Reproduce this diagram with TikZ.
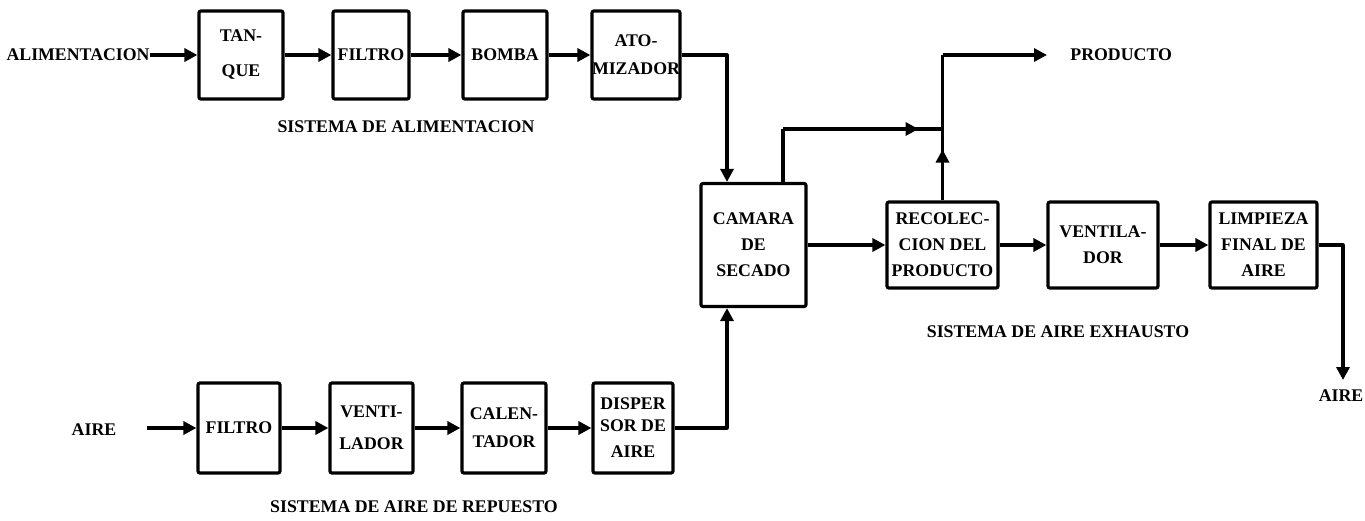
\documentclass[tikz,border=0pt]{standalone}
\usepackage{fontspec}
\setmainfont{Liberation Serif}
\usetikzlibrary{arrows.meta,decorations.markings,calc}
\newcommand\dtxt{\fontsize{8.9}{13}\selectfont\bfseries}
\tikzset{
  blk/.style={draw, line width=1.6pt, rounded corners=1pt, align=center, inner sep=0pt, font=\dtxt},
  lbl/.style={inner sep=0pt, font=\dtxt},
  ln/.style={line width=1.6pt, line join=round},
  arr/.style={ln, -{Triangle[length=6.5pt,width=6.5pt]}},
  midarr/.style={postaction={decorate}, decoration={markings, mark=at position #1 with {\arrow{Triangle[length=6.5pt,width=6.5pt]}}}},
}
\begin{document}
\begin{tikzpicture}[x=0.5pt,y=-0.5pt]
\useasboundingbox (0,0) rectangle (1365,520);
% top row
\node[lbl, anchor=east] (alim) at (150,55) {ALIMENTACION};
\node[blk, minimum width=42pt, minimum height=44pt] (tanque) at (241,55) {TAN-\\[4.5pt]QUE};
\node[blk, minimum width=38pt, minimum height=44pt] (filtroa) at (371,55) {FILTRO};
\node[blk, minimum width=42pt, minimum height=44pt] (bomba) at (505,55) {BOMBA};
\node[blk, minimum width=41pt, minimum height=44pt] (atom) at (636,55) {ATO-\\[1pt]MIZADOR};
\node[lbl] (sisa) at (406,127) {SISTEMA DE ALIMENTACION};
% middle
\node[blk, minimum width=52.5pt, minimum height=61.5pt] (camara) at (753.5,245) {CAMARA\\DE\\SECADO};
\node[blk, minimum width=55.5pt, minimum height=43pt] (recol) at (942.5,245) {RECOLEC-\\CION DEL\\PRODUCTO};
\node[blk, minimum width=55pt, minimum height=43pt] (ventb) at (1103,245) {VENTILA-\\DOR};
\node[blk, minimum width=53.5pt, minimum height=43pt] (limp) at (1263.5,245) {LIMPIEZA\\FINAL DE\\AIRE};
\node[lbl, anchor=west] (prod) at (1070,55) {PRODUCTO};
\node[lbl] (sise) at (1058,332) {SISTEMA DE AIRE EXHAUSTO};
\node[lbl] (aireb) at (1341,396) {AIRE};
% bottom row
\node[lbl] (airea) at (94,430) {AIRE};
\node[blk, minimum width=41pt, minimum height=45pt] (filtrob) at (239,428) {FILTRO};
\node[blk, minimum width=41.5pt, minimum height=45pt] (venta) at (371.5,428) {VENTI-\\[3pt]LADOR};
\node[blk, minimum width=42pt, minimum height=45pt] (cal) at (504,428) {CALEN-\\[1pt]TADOR};
\node[blk, minimum width=40pt, minimum height=45pt] (disp) at (633,428) {DISPER\\[-2pt]SOR DE\\AIRE};
\node[lbl] (sisr) at (414,507) {SISTEMA DE AIRE DE REPUESTO};
% coordinates
\coordinate (c1) at (727,55);
\coordinate (c2) at (783,129);
\coordinate (j1) at (942.5,129);
\coordinate (c3) at (942.5,55);
\coordinate (pe) at (1047,55);
\coordinate (c4) at (1343,245);
\coordinate (c5) at (1343,380);
\coordinate (c6) at (147,428);
% connectors
\draw[arr] (alim.east) -- (tanque.west);
\draw[arr] (tanque) -- (filtroa);
\draw[arr] (filtroa) -- (bomba);
\draw[arr] (bomba) -- (atom);
\draw[arr] (atom.east) -- (c1) -- (c1 |- camara.north);
\draw[arr] (disp.east) -| (c1 |- camara.south);
\draw[arr] (camara) -- (recol);
\draw[ln] (c2 |- camara.north) -- (c2);
\draw[ln, midarr=0.85] (c2) -- (j1);
\draw[ln, midarr=0.35] (recol.north) -- (c3);
\draw[arr] (c3) -- (pe);
\draw[arr] (recol) -- (ventb);
\draw[arr] (ventb) -- (limp);
\draw[arr] (limp.east) -- (c4) -- (c5);
\draw[arr] (c6) -- (filtrob.west);
\draw[arr] (filtrob) -- (venta);
\draw[arr] (venta) -- (cal);
\draw[arr] (cal) -- (disp);
\end{tikzpicture}
\end{document}
